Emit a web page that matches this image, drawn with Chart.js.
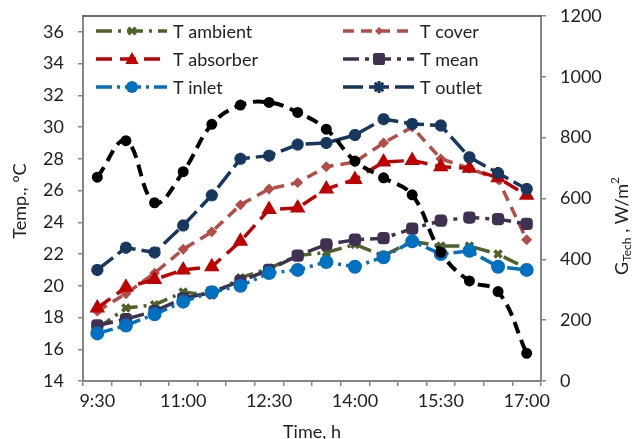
<!DOCTYPE html>
<html lang="en">
<head>
<meta charset="UTF-8">
<title>Collector temperatures and irradiance</title>
<script src="https://cdn.jsdelivr.net/npm/chart.js"></script>
<style>
  body { margin: 0; background: #fff; }
  #wrap { width: 633px; height: 439px; }
</style>
</head>
<body>
<div id="wrap"><canvas id="chartCanvas" width="633" height="439"></canvas></div>
<script>
// data, one value every 30 min
const times = ['9:30','10:00','10:30','11:00','11:30','12:00','12:30','13:00',
               '13:30','14:00','14:30','15:00','15:30','16:00','16:30','17:00'];
const xTickLabels = ['9:30','11:00','12:30','14:00','15:30','17:00'];

const tAmbient  = [17.3, 18.6, 18.8, 19.6, 19.4, 20.5, 21.1, 21.9, 22.1, 22.6, 21.9, 22.8, 22.5, 22.5, 22.0, 21.1];
const tCover    = [18.4, 19.5, 20.8, 22.3, 23.4, 25.1, 26.1, 26.5, 27.5, 27.8, 29.0, 30.0, 28.0, 27.4, 26.7, 22.9];
const tAbsorber = [18.6, 19.9, 20.4, 21.0, 21.2, 22.8, 24.8, 24.9, 26.1, 26.7, 27.8, 27.9, 27.5, 27.4, 26.8, 25.7];
const tMean     = [17.5, 17.9, 18.4, 19.2, 19.6, 20.3, 21.0, 21.9, 22.6, 22.9, 23.0, 23.6, 24.1, 24.3, 24.2, 23.9];
const tInlet    = [17.0, 17.5, 18.2, 19.0, 19.6, 20.0, 20.8, 21.0, 21.5, 21.2, 21.8, 22.8, 22.0, 22.2, 21.2, 21.0];
const tOutlet   = [21.0, 22.4, 22.1, 23.8, 25.7, 28.0, 28.2, 28.9, 29.0, 29.5, 30.5, 30.2, 30.1, 28.1, 27.1, 26.1];
const gTech     = [670, 790, 586, 688, 844, 907, 916, 883, 828, 723, 668, 612, 423, 329, 294, 91];

const FONT = 'Lato, "Open Sans", sans-serif';
const AXIS_GRAY = '#868686';

function series(label, data, color, dash, style, radius, order) {
    return {
        label, data, order,
        yAxisID: 'y',
        borderColor: color,
        backgroundColor: color,
        borderWidth: 3.5,
        borderDash: dash,
        tension: 0,
        pointStyle: style,
        pointRadius: radius,
        pointBorderWidth: 2,
        pointBackgroundColor: color,
        pointBorderColor: color
    };
}

const datasets = [
    series('T ambient',  tAmbient,  '#4F6228', [16, 6, 3, 6], 'crossRot',    5, 6),
    series('T cover',    tCover,    '#B44C47', [11, 7],       'rectRot',     4, 5),
    series('T absorber', tAbsorber, '#C00000', [16, 8],       'triangle',    7, 4),
    series('T mean',     tMean,     '#403152', [16, 6, 4, 6], 'rectRounded', 6, 3),
    series('T inlet',    tInlet,    '#0070C0', [16, 5, 3, 5], 'circle',      6, 2),
    series('T outlet',   tOutlet,   '#17375E', [20, 6],       'star',        6, 1),
    {
        label: 'G Tech', data: gTech, order: 0,
        yAxisID: 'y1',
        borderColor: '#000', backgroundColor: '#000',
        borderWidth: 4, borderDash: [12, 7],
        tension: 0.4,
        pointStyle: 'circle', pointRadius: 3.5,
        pointBackgroundColor: '#000', pointBorderColor: '#000'
    }
];
datasets[0].pointBorderWidth = 3.5;
datasets[5].pointBorderWidth = 4;

// marker for the hand-drawn legend
function marker(ctx, style, x, y, r, color) {
    ctx.save();
    ctx.setLineDash([]);
    ctx.fillStyle = color;
    ctx.strokeStyle = color;
    ctx.lineWidth = 3;
    ctx.beginPath();
    if (style === 'circle') {
        ctx.arc(x, y, r, 0, Math.PI * 2);
        ctx.fill();
    } else if (style === 'triangle') {
        ctx.moveTo(x, y - r);
        ctx.lineTo(x + r * 0.95, y + r * 0.7);
        ctx.lineTo(x - r * 0.95, y + r * 0.7);
        ctx.closePath();
        ctx.fill();
    } else if (style === 'rectRot') {
        ctx.moveTo(x, y - r); ctx.lineTo(x + r, y); ctx.lineTo(x, y + r); ctx.lineTo(x - r, y);
        ctx.closePath();
        ctx.fill();
    } else if (style === 'rectRounded') {
        ctx.roundRect(x - r, y - r, r * 2, r * 2, 2);
        ctx.fill();
    } else {
        // star / cross
        const n = style === 'star' ? 4 : 2;
        for (let i = 0; i < n; i++) {
            const a = Math.PI / 4 + i * Math.PI / n;
            ctx.moveTo(x - Math.cos(a) * r, y - Math.sin(a) * r);
            ctx.lineTo(x + Math.cos(a) * r, y + Math.sin(a) * r);
        }
        ctx.stroke();
    }
    ctx.restore();
}

const decorations = {
    id: 'decorations',
    afterDraw(chart) {
        const ctx = chart.ctx;
        const area = chart.chartArea;
        ctx.save();

        // top border of the plot area
        ctx.strokeStyle = '#404040';
        ctx.lineWidth = 1.5;
        ctx.beginPath();
        ctx.moveTo(area.left, area.top);
        ctx.lineTo(area.right, area.top);
        ctx.stroke();

        // legend: 2 columns x 3 rows inside the plot
        const colX = [96, 343];
        const rowY = [31, 59, 87];
        ctx.font = '18px ' + FONT;
        ctx.textBaseline = 'middle';
        ctx.fillStyle = '#222';
        for (let i = 0; i < 6; i++) {
            const ds = chart.data.datasets[i];
            const x0 = colX[i % 2], y = rowY[Math.floor(i / 2)];
            ctx.save();
            ctx.strokeStyle = ds.borderColor;
            ctx.lineWidth = ds.borderWidth;
            ctx.setLineDash(ds.borderDash);
            ctx.beginPath();
            ctx.moveTo(x0, y);
            ctx.lineTo(x0 + 71, y);
            ctx.stroke();
            ctx.restore();
            marker(ctx, ds.pointStyle, x0 + 36, y, ds.pointRadius, ds.borderColor);
            ctx.fillStyle = '#222';
            ctx.textAlign = 'left';
            ctx.fillText(ds.label, x0 + 77, y + 1);
        }

        // left axis title
        ctx.save();
        ctx.translate(20, 201);
        ctx.rotate(-Math.PI / 2);
        ctx.textAlign = 'center';
        ctx.fillText('Temp., °C', 0, 0);
        ctx.restore();

        // right axis title with sub/superscript
        const parts = [
            { t: 'G', f: '18px ' + FONT, dy: 0 },
            { t: 'Tech', f: '12px ' + FONT, dy: 5 },
            { t: ' , W/m', f: '18px ' + FONT, dy: 0 },
            { t: '2', f: '12px ' + FONT, dy: -7 }
        ];
        let w = 0;
        parts.forEach(p => { ctx.font = p.f; p.w = ctx.measureText(p.t).width; w += p.w; });
        ctx.save();
        ctx.translate(622, 226);
        ctx.rotate(-Math.PI / 2);
        ctx.textAlign = 'left';
        let px = -w / 2;
        parts.forEach(p => { ctx.font = p.f; ctx.fillText(p.t, px, p.dy); px += p.w; });
        ctx.restore();

        // x axis title
        ctx.font = '18px ' + FONT;
        ctx.textAlign = 'center';
        ctx.fillText('Time, h', (area.left + area.right) / 2, 432);

        ctx.restore();
    }
};

// fixed axis boxes so the plot area lands where the original has it
const fitY = w => s => { s.width = w; s.paddingTop = 0; s.paddingBottom = 0; };

new Chart(document.getElementById('chartCanvas'), {
    type: 'line',
    data: { labels: times, datasets },
    plugins: [decorations],
    options: {
        responsive: false,
        animation: false,
        layout: { padding: { top: 16 } },
        plugins: { legend: { display: false }, tooltip: { enabled: false } },
        scales: {
            x: {
                offset: true,
                afterFit: s => { s.height = 58; s.paddingLeft = 0; s.paddingRight = 0; },
                border: { color: AXIS_GRAY, width: 2 },
                grid: { offset: true, drawOnChartArea: false, tickLength: 5, color: AXIS_GRAY, lineWidth: 1.5 },
                ticks: {
                    autoSkip: false, maxRotation: 0, padding: 4,
                    color: '#222', font: { family: FONT, size: 18 },
                    callback: function (v, i) {
                        const l = this.getLabelForValue(v);
                        return xTickLabels.includes(l) ? l : '';
                    }
                }
            },
            y: {
                position: 'left',
                min: 14, max: 37,
                afterFit: fitY(83),
                border: { color: AXIS_GRAY, width: 2 },
                grid: { drawOnChartArea: false, tickLength: 5, color: AXIS_GRAY, lineWidth: 1.5 },
                ticks: {
                    stepSize: 2, includeBounds: false, padding: 14,
                    color: '#222', font: { family: FONT, size: 18 },
                    callback: v => (v <= 36 ? String(v) : '')
                }
            },
            y1: {
                position: 'right',
                min: 0, max: 1200,
                afterFit: fitY(92),
                border: { color: AXIS_GRAY, width: 2 },
                grid: { drawOnChartArea: false, tickLength: 5, color: AXIS_GRAY, lineWidth: 1.5 },
                ticks: {
                    stepSize: 200, padding: 14,
                    color: '#222', font: { family: FONT, size: 18 },
                    callback: v => String(v)
                }
            }
        }
    }
});
</script>
</body>
</html>
